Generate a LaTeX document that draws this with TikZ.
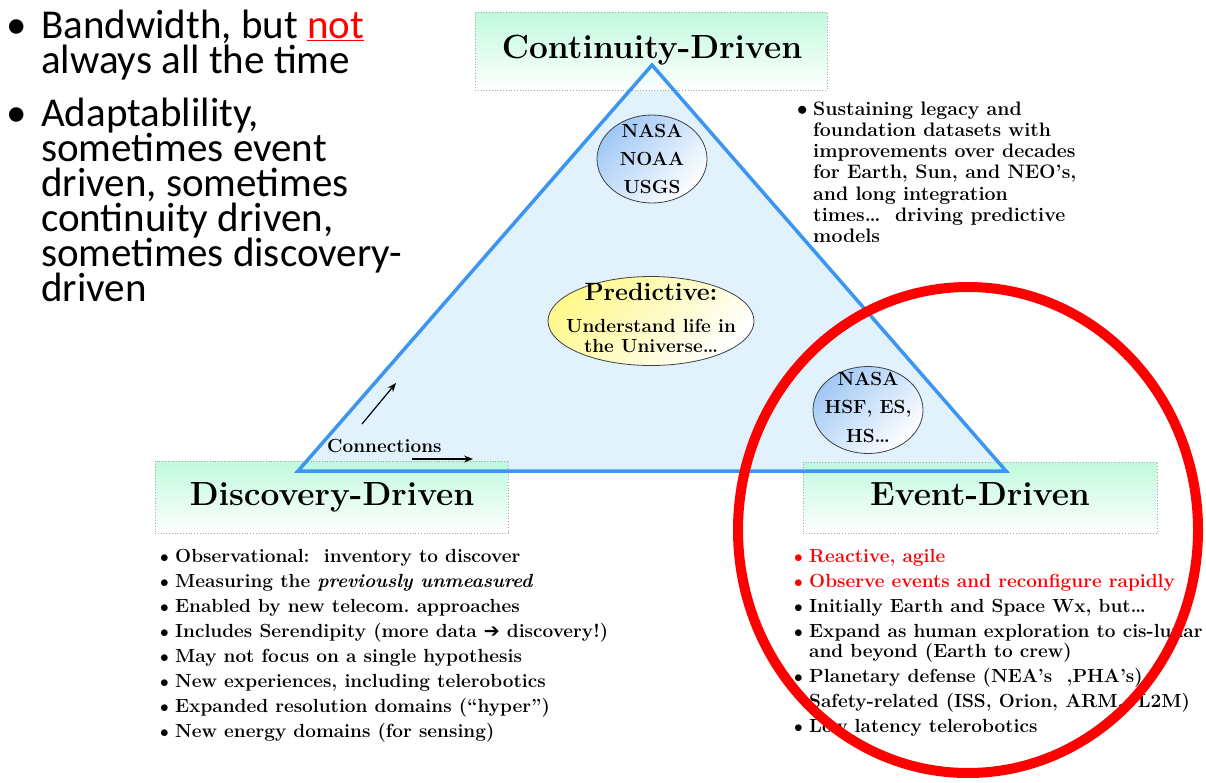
\documentclass[tikz,border=0pt]{standalone}
\usepackage{fontspec}
\usetikzlibrary{shapes.geometric,arrows.meta}
\newfontfamily\calfont{Carlito}
\newfontfamily\dvsfont{DejaVu Sans}
\newcommand\palb{\rmfamily\bfseries}
\newcommand\bl{$\bullet$}
\newcommand\itm[3]{\hangindent=#1\hangafter=1\noindent\makebox[#1][l]{#2}#3\par}
\definecolor{triblue}{RGB}{225,242,253}
\definecolor{triline}{RGB}{60,150,240}
\definecolor{mint}{RGB}{182,250,216}
\definecolor{nasablue}{RGB}{160,200,245}
\definecolor{predyellow}{RGB}{255,248,140}
\definecolor{ringred}{RGB}{255,0,0}
\begin{document}
\begin{tikzpicture}[x=1pt,y=-1pt,
  tri/.style={draw=triline, line width=3.5pt, line join=miter},
  trifill/.style={fill=triblue},
  titlebox/.style={draw=gray!70, dotted, line width=0.8pt, top color=mint, bottom color=white, fill opacity=0.85, inner sep=0},
  titletext/.style={font=\palb\fontsize{33.5}{38}\selectfont, inner sep=0, anchor=base},
  blist/.style={inner sep=0, anchor=base west},
  agency/.style={ellipse, draw=black!75, line width=0.8pt, inner sep=0, top color=nasablue, bottom color=white, shading angle=45},
  predict/.style={ellipse, draw=black!75, line width=0.8pt, inner sep=0, top color=predyellow, bottom color=white, shading angle=45},
  ellipsetext/.style={inner sep=0, anchor=base},
  conarrow/.style={line width=1.2pt, -{Stealth[length=9pt,width=7pt]}},
  ring/.style={ellipse, draw=ringred, line width=10pt, inner sep=0}
]
\useasboundingbox (0,0) rectangle (1206,782);
\fill[white] (0,0) rectangle (1206,782);

% left text
\node[blist, font=\calfont\fontsize{41}{35}\selectfont] (lefttext) at (6,38) {%
\begin{minipage}[t]{420pt}\lineskiplimit=-100pt\parskip=0pt
\itm{35pt}{\textbullet}{Bandwidth, but \textcolor{ringred}{\underline{not}}\\always all the time}
\vspace{18pt}
\itm{35pt}{\textbullet}{Adaptablility,\\sometimes event\\driven, sometimes\\continuity driven,\\sometimes discovery-\\driven}
\end{minipage}};

% triangle
\coordinate (apex) at (652,65);
\coordinate (bl) at (298,471);
\coordinate (br) at (1006,471);
\fill[trifill] (apex) -- (br) -- (bl) -- cycle;

% title boxes
\node[titlebox, minimum width=352pt, minimum height=78pt] (contbox) at (651,51) {};
\node[titlebox, minimum width=353pt, minimum height=72pt] (discbox) at (331.5,497) {};
\node[titlebox, minimum width=354pt, minimum height=71pt] (evbox) at (980,497.5) {};

\draw[tri] (apex) -- (br) -- (bl) -- cycle;

\node[titletext] (conttext) at (652,58) {Continuity-Driven};
\node[titletext] (disctext) at (332,505) {Discovery-Driven};
\node[titletext] (evtext) at (980,505) {Event-Driven};

% ellipses
\node[agency, minimum width=110pt, minimum height=88pt] (nasa1) at (652,159) {};
\node[ellipsetext, font=\palb\fontsize{19}{28}\selectfont] (nasa1t) at (652,137) {%
\begin{tabular}[t]{@{}c@{}}NASA\\NOAA\\USGS\end{tabular}};

\node[predict, minimum width=206pt, minimum height=89pt] (pred) at (651,321) {};
\node[ellipsetext, font=\palb\fontsize{25}{28}\selectfont] (predt) at (651,300) {Predictive:};
\node[ellipsetext, font=\palb\fontsize{19}{20.5}\selectfont] (predt2) at (651,332) {%
\begin{minipage}[t]{200pt}\centering\lineskiplimit=-100pt Understand life in\\the Universe…\end{minipage}};

\node[agency, minimum width=110pt, minimum height=87pt] (nasa2) at (868,410) {};
\node[ellipsetext, font=\palb\fontsize{19}{28.5}\selectfont] (nasa2t) at (868,385) {%
\begin{tabular}[t]{@{}c@{}}NASA\\HSF, ES,\\HS…\end{tabular}};

% connections
\node[inner sep=0, anchor=base west, font=\palb\fontsize{19}{22}\selectfont] (contxt) at (327,452) {Connections};
\coordinate (ca1) at (362,424);
\coordinate (ca2) at (396,383);
\coordinate (cb1) at (412,459);
\coordinate (cb2) at (473,459);
\draw[conarrow] (ca1) -- (ca2);
\draw[conarrow] (cb1) -- (cb2);

% continuity list
\node[blist, font=\palb\fontsize{19.5}{21.3}\selectfont] (contlist) at (797,115) {%
\begin{minipage}[t]{340pt}\lineskiplimit=-100pt\parskip=0pt
\itm{16pt}{\bl}{Sustaining legacy and\\foundation datasets with\\improvements over decades\\for Earth, Sun, and NEO’s,\\and long integration\\times…\ \ driving predictive\\models}
\end{minipage}};

% discovery list
\node[blist, font=\palb\fontsize{19}{25}\selectfont] (disclist) at (160,562) {%
\begin{minipage}[t]{460pt}\lineskiplimit=-100pt\parskip=0pt
\itm{15pt}{\bl}{Observational:\ \ inventory to discover}
\itm{15pt}{\bl}{Measuring the \textit{previously unmeasured}}
\itm{15pt}{\bl}{Enabled by new telecom.\ approaches}
\itm{15pt}{\bl}{Includes Serendipity (more data {\dvsfont\bfseries ➔} discovery!)}
\itm{15pt}{\bl}{May not focus on a single hypothesis}
\itm{15pt}{\bl}{New experiences, including telerobotics}
\itm{15pt}{\bl}{Expanded resolution domains (“hyper”)}
\itm{15pt}{\bl}{New energy domains (for sensing)}
\end{minipage}};

% event list
\node[blist, font=\palb\fontsize{19}{25}\selectfont] (evlist) at (794,562) {%
\begin{minipage}[t]{460pt}\lineskiplimit=-100pt\parskip=0pt
\itm{15pt}{\textcolor{ringred}{\bl}}{\textcolor{ringred}{Reactive, agile}}
\itm{15pt}{\textcolor{ringred}{\bl}}{\textcolor{ringred}{Observe events and reconfigure rapidly}}
\itm{15pt}{\bl}{Initially Earth and Space Wx, but…}
\itm{15pt}{\bl}{Expand as human exploration to cis-lunar\\[-5pt]and beyond (Earth to crew)}
\itm{15pt}{\bl}{Planetary defense (NEA’s\ \ ,PHA’s)}
\itm{15pt}{}{Safety-related (ISS, Orion, ARM,\ \ L2M)}
\itm{15pt}{\bl}{Low latency telerobotics}
\end{minipage}};

% red ring
\node[ring, minimum width=460pt, minimum height=486pt] (redring) at (968,530) {};
\end{tikzpicture}
\end{document}
